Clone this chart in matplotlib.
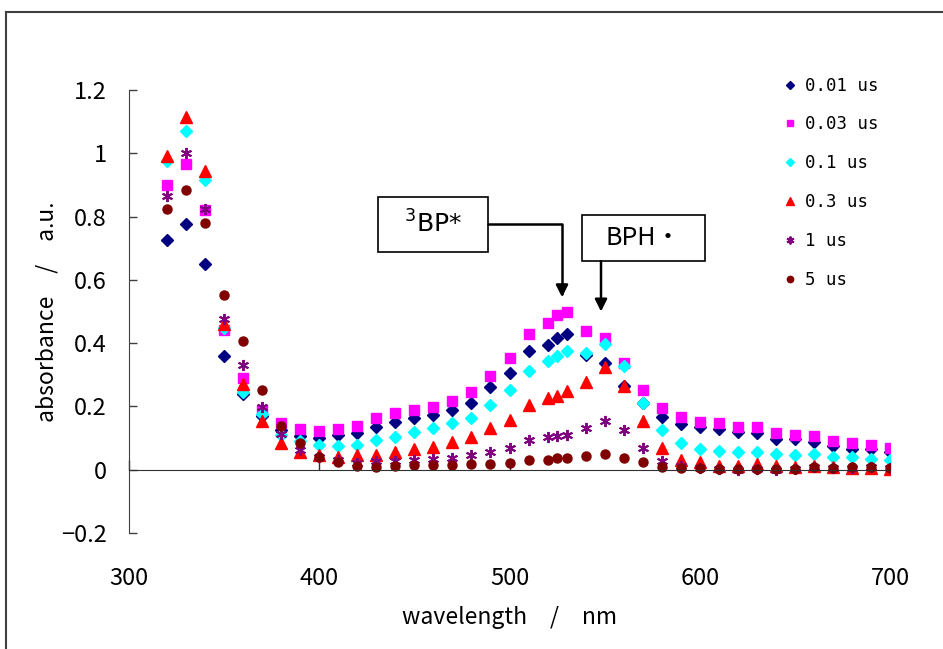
import matplotlib.pyplot as plt
from matplotlib.lines import Line2D
from matplotlib.patches import Rectangle

plt.rcParams.update({
    'font.family': ['Noto Sans CJK JP', 'DejaVu Sans'],
    'axes.unicode_minus': True,
})

# wavelength (nm)
wl = [320, 330, 340, 350, 360, 370, 380, 390, 400, 410, 420, 430, 440, 450,
      460, 470, 480, 490, 500, 510, 520, 525, 530, 540, 550, 560, 570, 580,
      590, 600, 610, 620, 630, 640, 650, 660, 670, 680, 690, 700]

abs_001 = [0.725, 0.775, 0.65, 0.36, 0.24, 0.17, 0.125, 0.105, 0.10, 0.11,
           0.115, 0.135, 0.15, 0.165, 0.172, 0.19, 0.21, 0.26, 0.305, 0.375,
           0.395, 0.415, 0.43, 0.362, 0.338, 0.265, 0.21, 0.168, 0.145, 0.134,
           0.128, 0.118, 0.116, 0.097, 0.097, 0.088, 0.076, 0.067, 0.065, 0.056]
abs_003 = [0.90, 0.965, 0.82, 0.44, 0.29, 0.19, 0.147, 0.128, 0.123, 0.128,
           0.137, 0.162, 0.18, 0.188, 0.199, 0.216, 0.246, 0.297, 0.353, 0.43,
           0.465, 0.49, 0.497, 0.437, 0.415, 0.336, 0.251, 0.195, 0.167, 0.152,
           0.148, 0.134, 0.134, 0.116, 0.11, 0.106, 0.092, 0.083, 0.079, 0.07]
abs_01 = [0.975, 1.07, 0.915, 0.447, 0.245, 0.175, 0.11, 0.09, 0.078, 0.076,
          0.079, 0.094, 0.104, 0.118, 0.131, 0.147, 0.165, 0.205, 0.253, 0.313,
          0.345, 0.36, 0.375, 0.37, 0.397, 0.328, 0.211, 0.126, 0.084, 0.065,
          0.06, 0.056, 0.056, 0.05, 0.047, 0.049, 0.039, 0.039, 0.034, 0.031]
abs_03 = [0.99, 1.115, 0.945, 0.46, 0.27, 0.155, 0.086, 0.055, 0.045, 0.041,
          0.045, 0.048, 0.057, 0.065, 0.072, 0.089, 0.102, 0.132, 0.158, 0.205,
          0.226, 0.234, 0.25, 0.278, 0.324, 0.265, 0.154, 0.07, 0.031, 0.023,
          0.013, 0.013, 0.018, 0.013, 0.01, 0.013, 0.008, 0.005, 0.005, 0.002]
abs_1 = [0.865, 1.0, 0.825, 0.477, 0.332, 0.197, 0.113, 0.061, 0.041, 0.031,
         0.02, 0.029, 0.029, 0.031, 0.034, 0.036, 0.048, 0.057, 0.07, 0.094,
         0.104, 0.108, 0.111, 0.132, 0.155, 0.126, 0.07, 0.029, 0.012, 0.005,
         0.002, -0.002, 0.002, 0.0, 0.003, 0.008, 0.005, 0.006, 0.007, 0.004]
abs_5 = [0.825, 0.885, 0.78, 0.553, 0.407, 0.252, 0.139, 0.084, 0.039, 0.023,
         0.013, 0.008, 0.013, 0.015, 0.015, 0.015, 0.018, 0.018, 0.021, 0.031,
         0.032, 0.037, 0.037, 0.044, 0.05, 0.037, 0.023, 0.007, 0.005, 0.004,
         0.002, 0.002, 0.002, 0.003, 0.002, 0.008, 0.005, 0.007, 0.008, 0.005]

labels = ['0.01 us', '0.03 us', '0.1 us', '0.3 us', '1 us', '5 us']
xticks = [300, 400, 500, 600, 700]
yticks = [-0.2, 0, 0.2, 0.4, 0.6, 0.8, 1.0, 1.2]
ytick_labels = ['\u22120.2', '0', '0.2', '0.4', '0.6', '0.8', '1', '1.2']

fig = plt.figure(figsize=(9.43, 6.49), dpi=100)
ax = fig.add_axes([129/943, 1 - 533/649, 761/943, 443/649])

# marker styles, Excel-like
styles = [
    dict(marker='D', color='#000080', ms=6.5),
    dict(marker='s', color='#FF00FF', ms=6.5),
    dict(marker='D', color='#00FFFF', ms=6.5),
    dict(marker='^', color='#FF0000', ms=8.5),
    dict(marker=(6, 2, 0), color='#800080', ms=8, mew=1.4),
    dict(marker='o', color='#800000', ms=6.5),
]
series = [abs_001, abs_003, abs_01, abs_03, abs_1, abs_5]
for vals, lab, st in zip(series, labels, styles):
    ax.plot(wl, vals, linestyle='none', label=lab, mec=st['color'],
            **st)

ax.set_xlim(300, 700)
ax.set_ylim(-0.2, 1.2)
ax.set_xticks(xticks)
ax.set_yticks(yticks)
ax.set_yticklabels(ytick_labels)

for s in ['top', 'right']:
    ax.spines[s].set_visible(False)
ax.spines['bottom'].set_position(('data', 0))
ax.spines['bottom'].set_color('#303030')
ax.spines['left'].set_color('#404040')
ax.tick_params(axis='y', direction='in', length=6, width=1, color='#404040',
               pad=16, labelsize=17)
ax.tick_params(axis='x', direction='in', length=7, width=1, color='#303030',
               pad=70, labelsize=17)

ax.set_xlabel('wavelength\u3000/\u3000nm', fontsize=16.5)
ax.xaxis.set_label_coords(0.5, -0.165)
ax.set_ylabel('absorbance\u3000/\u3000a.u.', fontsize=16.5)
ax.yaxis.set_label_coords(-0.092, 0.5)

leg = ax.legend(loc='upper left', bbox_to_anchor=(769/943, 1 - 61/649),
                bbox_transform=fig.transFigure, frameon=False,
                prop={'family': 'DejaVu Sans Mono', 'size': 12.5},
                markerscale=0.7, handlelength=0.6, handletextpad=0.6,
                labelspacing=1.2)

# annotation boxes
ax.add_patch(Rectangle((430.9, 0.688), 57.8, 0.174, fill=False,
                       edgecolor='black', lw=1.2, zorder=5))
ax.text(459.8, 0.775, r'$\mathregular{^3}$BP*', ha='center', va='center',
        fontsize=18, family='DejaVu Sans', zorder=6)
ax.annotate('', xy=(527.6, 0.545), xytext=(488.7, 0.775),
            arrowprops=dict(arrowstyle='-|>', color='black', lw=1.8,
                            mutation_scale=18, shrinkA=0, shrinkB=0,
                            connectionstyle='angle,angleA=0,angleB=90,rad=0'))

ax.add_patch(Rectangle((538.1, 0.659), 64.7, 0.146, fill=False,
                       edgecolor='black', lw=1.2, zorder=5))
ax.text(570.4, 0.732, 'BPH\u30fb', ha='center', va='center',
        fontsize=18, zorder=6)
ax.annotate('', xy=(548.1, 0.50), xytext=(548.1, 0.659),
            arrowprops=dict(arrowstyle='-|>', color='black', lw=1.8,
                            mutation_scale=18, shrinkA=0, shrinkB=0))

# outer chart-area frame (cropped at right and bottom)
fig.add_artist(Line2D([6/943, 1.0], [1 - 12/649, 1 - 12/649],
                      transform=fig.transFigure, color='#404040', lw=1.5))
fig.add_artist(Line2D([6/943, 6/943], [0, 1 - 12/649],
                      transform=fig.transFigure, color='#404040', lw=1.5))

fig.savefig('out.png', dpi=100)
